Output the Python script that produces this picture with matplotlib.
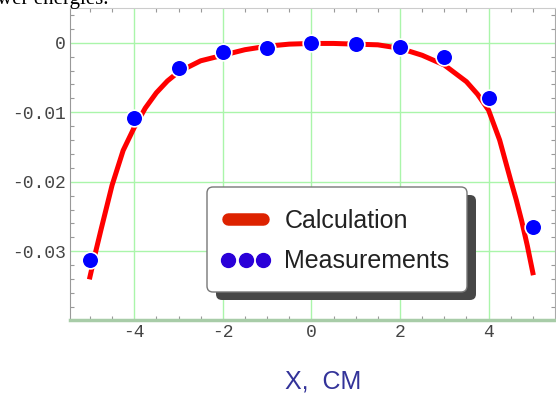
import matplotlib
matplotlib.use("Agg")
import matplotlib.pyplot as plt
from matplotlib.lines import Line2D
from matplotlib.patches import FancyBboxPatch
from matplotlib.transforms import IdentityTransform

# measured points
x_meas = [-5, -4, -3, -2, -1, 0, 1, 2, 3, 4, 5]
y_meas = [-0.0313, -0.0108, -0.0037, -0.0014, -0.0007, -0.0001,
          -0.0002, -0.0006, -0.0021, -0.0080, -0.0265]

# calculated curve
x_calc = [-5.0, -4.875, -4.75, -4.625, -4.5, -4.25, -4.0, -3.75, -3.5, -3.25, -3.0,
          -2.5, -2.0, -1.5, -1.0, -0.5, 0.0, 0.5, 1.0, 1.5, 2.0, 2.5, 3.0, 3.5,
          3.75, 4.0, 4.25, 4.5, 4.625, 4.75, 4.875, 5.0]
y_calc = [-0.0337, -0.0302, -0.0269, -0.0237, -0.0205, -0.0155, -0.0122, -0.0094,
          -0.0072, -0.0055, -0.0042, -0.0026, -0.0018, -0.0010, -0.0005, -0.0002,
          -0.0001, -0.0001, -0.0002, -0.0003, -0.0008, -0.0018, -0.0032, -0.0056,
          -0.0074, -0.0097, -0.0140, -0.0198, -0.0226, -0.0257, -0.0292, -0.0331]

xticks = [-4, -2, 0, 2, 4]
xtick_labels = ["-4", "-2", "0", "2", "4"]
yticks = [0, -0.01, -0.02, -0.03]
ytick_labels = ["0", "-0.01", "-0.02", "-0.03"]

W, H = 556, 394
fig = plt.figure(figsize=(W / 100, H / 100), dpi=100)
ax = fig.add_axes([70 / W, 1 - 320 / H, 485 / W, 312 / H])

ax.plot(x_calc, y_calc, color="#ff0000", lw=3.6, zorder=3)
ax.plot(x_meas, y_meas, "o", color="#0000ff", ms=12, mec="white", mew=1.2, zorder=4)

ax.set_xlim(-5.45, 5.5)
ax.set_ylim(-0.0399, 0.005)
ax.set_xticks(xticks)
ax.set_xticklabels(xtick_labels)
ax.set_yticks(yticks)
ax.set_yticklabels(ytick_labels)
ax.set_xticks([i * 0.5 for i in range(-10, 11)], minor=True)
ax.set_yticks([-0.038 + i * 0.002 for i in range(22)], minor=True)

ax.grid(True, which="major", color="#aaf5aa", lw=1.0, zorder=0)
ax.set_axisbelow(True)
ax.tick_params(which="both", direction="in", top=True, right=True, color="#999999")
ax.tick_params(which="major", length=0)
ax.tick_params(axis="y", which="major", pad=3)
ax.tick_params(axis="x", which="major", pad=3)
ax.tick_params(which="minor", length=3, width=0.8)
for lab in ax.get_xticklabels() + ax.get_yticklabels():
    lab.set_fontfamily("Liberation Mono")
    lab.set_fontsize(13)
    lab.set_color("#444444")

ax.spines["left"].set_color("#999999")
ax.spines["top"].set_color("#cccccc")
ax.spines["right"].set_color("#aaaaaa")
ax.spines["bottom"].set_color("#a8cca8")
ax.spines["bottom"].set_linewidth(2.5)

# legend box with its dark shadow (pixel coordinates)
shadow = FancyBboxPatch((216, H - 300), 260, 105, boxstyle="round,pad=0,rounding_size=6",
                        transform=IdentityTransform(), facecolor="#474747",
                        edgecolor="none", zorder=2)
box = FancyBboxPatch((207, H - 292), 260, 105, boxstyle="round,pad=0,rounding_size=6",
                     transform=IdentityTransform(), facecolor="white",
                     edgecolor="#777777", lw=1.0, zorder=3)
fig.patches.extend([shadow, box])

h_calc = Line2D([], [], color="#dd2200", lw=9, solid_capstyle="round")
h_meas = Line2D([], [], ls="none", marker="o", color="#2a00d8", ms=10)
leg = fig.legend([h_calc, h_meas], ["Calculation", "Measurements"],
                 loc="upper left", bbox_to_anchor=(207 / W, 1 - 195 / H),
                 bbox_transform=fig.transFigure, borderaxespad=0,
                 prop={"family": "Liberation Sans", "size": 18},
                 numpoints=3, handlelength=2.0, handletextpad=0.55,
                 labelspacing=0.67, borderpad=0.55, frameon=False)
leg.set_zorder(5)
for t in leg.get_texts():
    t.set_color("#222222")

fig.text(285 / W, 1 - 382 / H, "X,  CM", color="#333399", fontsize=18,
         family="Liberation Sans", va="center", ha="left")
fig.text(-0.005, 1 - 4 / H, "wer energies.", fontsize=15,
         family="Liberation Serif", va="baseline", ha="left", color="black")

fig.savefig("out.png", dpi=100)
